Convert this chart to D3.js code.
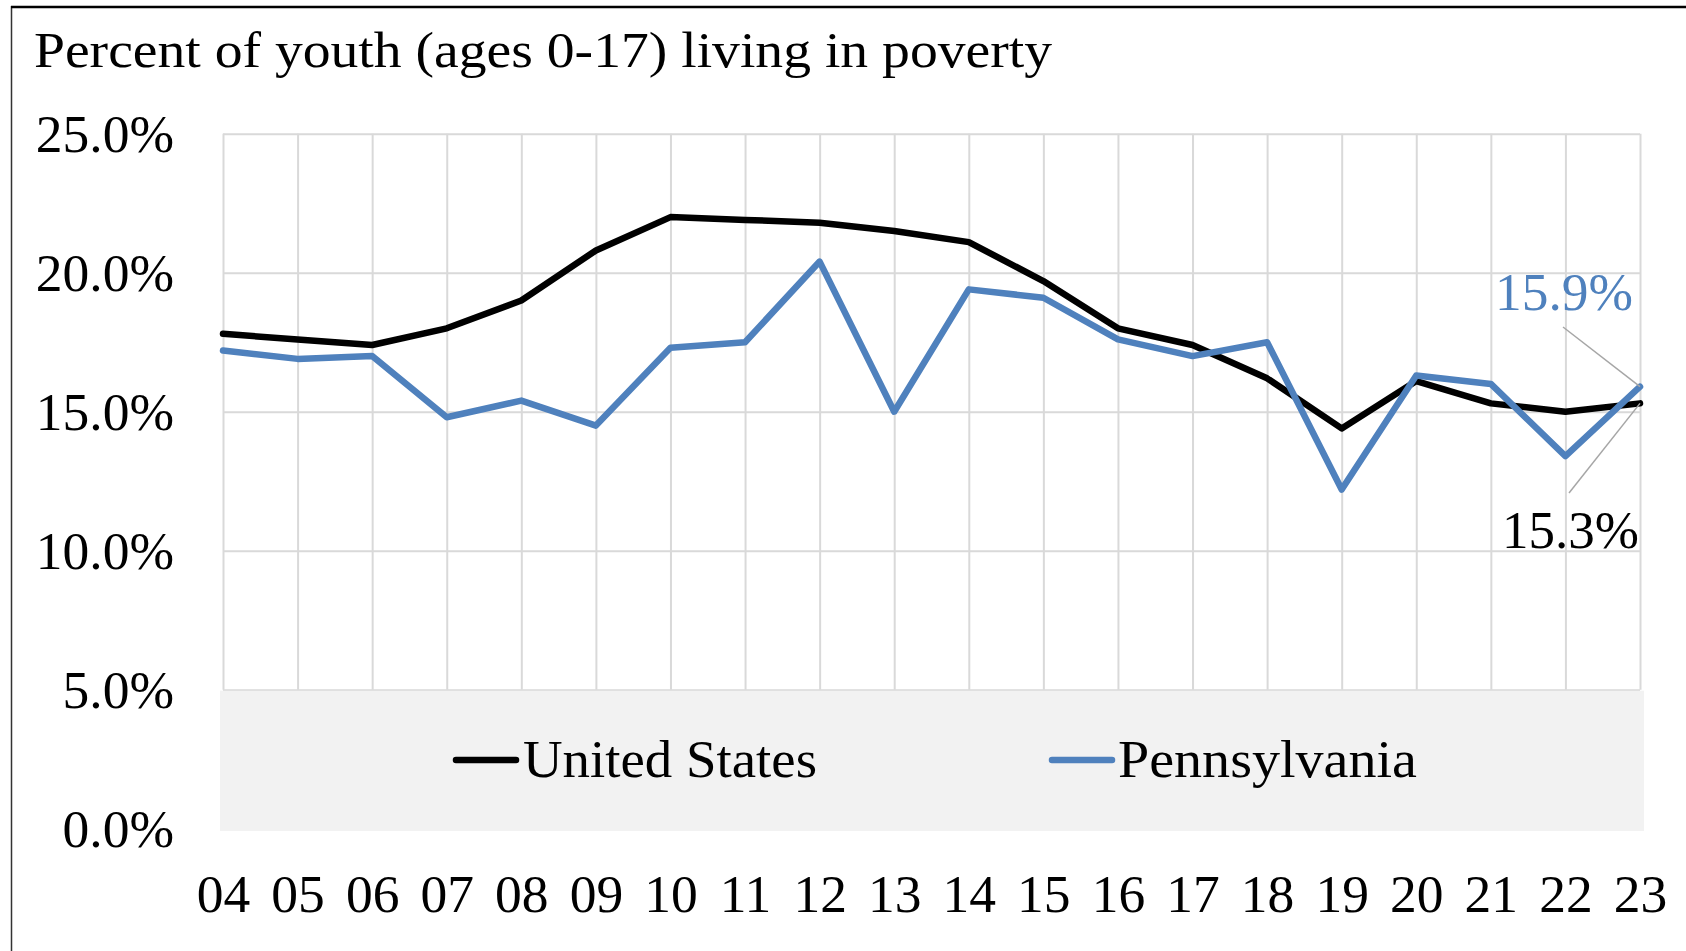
<!DOCTYPE html>
<html><head><meta charset="utf-8">
<script src="https://cdn.jsdelivr.net/npm/d3@7"></script>
<style>
html,body{margin:0;padding:0;background:#fff;}
svg{display:block;}
text{font-family:"Liberation Serif","DejaVu Serif",serif;}
</style></head>
<body>
<svg id="c" width="1686" height="951"></svg>
<script>
const years = ["04","05","06","07","08","09","10","11","12","13","14","15","16","17","18","19","20","21","22","23"];
const usValues = [17.8,17.6,17.4,18.0,19.0,20.8,22.0,21.9,21.8,21.5,21.1,19.7,18.0,17.4,16.2,14.4,16.1,15.3,15.0,15.3];
const paValues = [17.2,16.9,17.0,14.8,15.4,14.5,17.3,17.5,20.4,15.0,19.4,19.1,17.6,17.0,17.5,12.2,16.3,16.0,13.4,15.9];
const yTicks = [0,5,10,15,20,25];
const seriesNames = ["United States","Pennsylvania"];
const seriesColors = ["#000000","#4f81bd"];
const titleText = "Percent of youth (ages 0-17) living in poverty";

(function(){
const svg = d3.select("#c");
const W = 1686, H = 951;
const pL = 223, pR = 1640, pT = 133.7, pB = 828.7;
const FS = 53.5;

const x = d3.scalePoint().domain(years).range([pL, pR]);
const y = d3.scaleLinear().domain([0,25]).range([pB, pT]);

// frame
svg.append("line").attr("x1",11.5).attr("x2",11.5).attr("y1",6).attr("y2",H).attr("stroke","#333").attr("stroke-width",1.5);
svg.append("line").attr("x1",11).attr("x2",W).attr("y1",7).attr("y2",7).attr("stroke","#000").attr("stroke-width",2.5);

// title
svg.append("text").attr("x",34).attr("y",67).attr("font-size",51)
  .attr("textLength",1018).attr("lengthAdjust","spacingAndGlyphs").text(titleText);

// horizontal gridlines + y labels
const yAxis = d3.axisLeft(y).tickValues(yTicks).tickSize(-(pR-pL)).tickPadding(49)
  .tickFormat(d => d3.format(".1f")(d) + "%");
const gy = svg.append("g").attr("transform",`translate(${pL},0)`).call(yAxis);
gy.select(".domain").remove();
gy.selectAll(".tick line").attr("stroke","#d9d9d9").attr("stroke-width",2);
gy.selectAll(".tick text").attr("font-size",FS).attr("fill","#000")
  .attr("font-family","Liberation Serif").attr("dy","0.34em");

// vertical gridlines
const xGrid = d3.axisBottom(x).tickSize(-(y(5)-pT)).tickFormat("");
const gx = svg.append("g").attr("transform",`translate(0,${y(5)})`).call(xGrid);
gx.select(".domain").remove();
gx.selectAll(".tick line").attr("stroke","#d9d9d9").attr("stroke-width",2);

// legend box
svg.append("rect").attr("x",220).attr("y",y(5)+1).attr("width",1644-220).attr("height",831-(y(5)+1)).attr("fill","#f2f2f2");

// x labels
const xAxis = d3.axisBottom(x).tickSize(0).tickPadding(0);
const gxl = svg.append("g").attr("transform","translate(0,912)").call(xAxis);
gxl.select(".domain").remove();
gxl.selectAll(".tick text").attr("font-size",FS).attr("fill","#000")
  .attr("font-family","Liberation Serif").attr("dy",0).attr("y",0);

// lines
const line = d3.line().x((d,i)=>x(years[i])).y(d=>y(d));
[usValues, paValues].forEach((vals,k)=>{
  svg.append("path").datum(vals).attr("d",line).attr("fill","none")
    .attr("stroke",seriesColors[k]).attr("stroke-width",6.5).attr("stroke-linejoin","round").attr("stroke-linecap","round");
});

// legend
const legendItems = [
  {lx:456, tx:523, tw:294},
  {lx:1052, tx:1118, tw:299}
];
legendItems.forEach((it,k)=>{
  svg.append("line").attr("x1",it.lx).attr("x2",it.lx+60).attr("y1",760).attr("y2",760)
    .attr("stroke",seriesColors[k]).attr("stroke-width",6.5).attr("stroke-linecap","round");
  svg.append("text").attr("x",it.tx).attr("y",777).attr("font-size",FS)
    .attr("textLength",it.tw).attr("lengthAdjust","spacingAndGlyphs").text(seriesNames[k]);
});

// data labels with leader lines
const last = years[years.length-1];
const lastPa = paValues[paValues.length-1], lastUs = usValues[usValues.length-1];
svg.append("line").attr("x1",1563).attr("y1",327).attr("x2",x(last)).attr("y2",y(lastPa))
  .attr("stroke","#a6a6a6").attr("stroke-width",1.5);
svg.append("line").attr("x1",1569).attr("y1",493).attr("x2",x(last)).attr("y2",y(lastUs))
  .attr("stroke","#a6a6a6").attr("stroke-width",1.5);
svg.append("text").attr("x",1495).attr("y",310).attr("font-size",FS)
  .attr("textLength",138).attr("lengthAdjust","spacingAndGlyphs")
  .attr("fill",seriesColors[1]).text(d3.format(".1f")(lastPa)+"%");
svg.append("text").attr("x",1502).attr("y",548).attr("font-size",FS)
  .attr("textLength",137).attr("lengthAdjust","spacingAndGlyphs")
  .attr("fill",seriesColors[0]).text(d3.format(".1f")(lastUs)+"%");
})();
</script>
</body></html>
